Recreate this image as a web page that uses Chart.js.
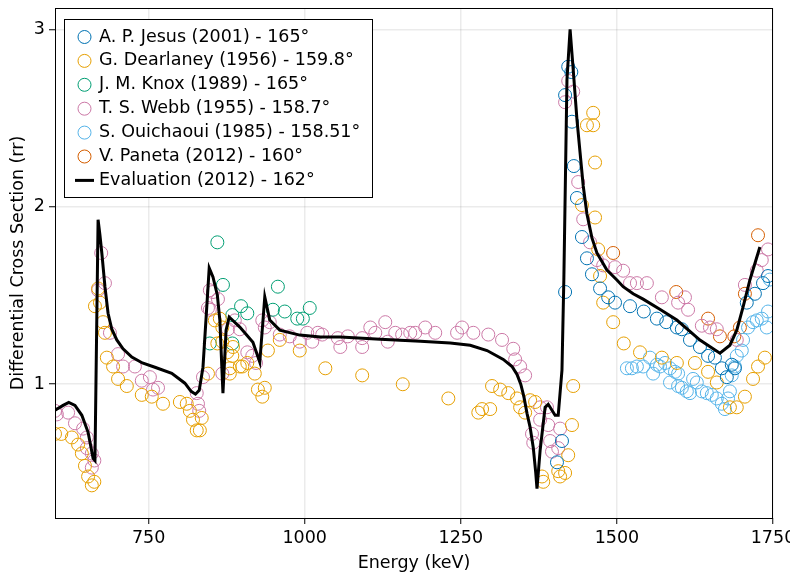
<!DOCTYPE html>
<html>
<head>
<meta charset="utf-8">
<script src="https://cdn.jsdelivr.net/npm/chart.js@4.4.1/dist/chart.umd.min.js"></script>
<style>
  html, body { margin: 0; padding: 0; background: #fff; overflow: hidden; }
  canvas { display: block; }
</style>
</head>
<body>
<canvas id="chart" width="790" height="574"></canvas>
<script>
// axis ticks
const xTicks = [750, 1000, 1250, 1500, 1750];
const yTicks = [1, 2, 3];

// A. P. Jesus (2001)
const jesusE = [1404,1412,1417,1417,1422,1427,1428,1431,1436,1444,1452,1460,1473,1486,1497,1521,1543,1564,1579,1596,1604,1617,1633,1646,1657,1668,1676,1684,1689,1708,1721,1734,1742];
const jesusY = [0.56,0.68,1.52,2.63,2.79,2.76,2.48,2.23,2.05,1.83,1.71,1.62,1.54,1.49,1.46,1.44,1.41,1.37,1.35,1.32,1.31,1.25,1.21,1.16,1.15,1.09,1.04,1.11,1.09,1.46,1.51,1.57,1.61];

// G. Dearlaney (1956)
const dearE = [600,610,627,637,643,648,653,659,663,664,669,672,677,680,683,693,701,715,739,755,773,800,811,816,821,827,832,835,845,856,864,860,868,868,876,880,880,884,885,896,900,908,920,925,932,936,941,960,992,1033,1092,1157,1230,1278,1284,1297,1300,1313,1326,1340,1345,1353,1361,1369,1380,1382,1406,1409,1417,1422,1428,1430,1452,1462,1462,1465,1444,1465,1470,1473,1478,1494,1511,1537,1572,1596,1625,1646,1660,1681,1692,1705,1718,1726,1737];
const dearY = [0.72,0.72,0.70,0.66,0.61,0.54,0.48,0.43,0.45,1.44,1.54,1.46,1.35,1.29,1.15,1.10,1.03,0.99,0.94,0.93,0.89,0.90,0.89,0.85,0.80,0.74,0.74,0.81,1.06,1.36,1.37,1.23,1.32,1.24,1.18,1.09,1.06,1.16,1.21,1.10,1.10,1.12,1.06,0.97,0.93,0.98,1.19,1.25,1.19,1.09,1.05,1.00,0.92,0.84,0.86,0.86,0.99,0.97,0.95,0.92,0.87,0.84,0.91,0.90,0.48,0.45,0.51,0.48,0.50,0.60,0.77,0.99,2.46,2.53,2.46,2.25,2.01,1.94,1.76,1.61,1.46,1.35,1.23,1.18,1.15,1.12,1.12,1.07,1.01,0.87,0.87,0.93,1.03,1.10,1.15];

// J. M. Knox (1989)
const knoxE = [848,860,869,884,884,898,908,949,957,968,988,997,1008];
const knoxY = [1.23,1.80,1.56,1.39,1.23,1.44,1.40,1.42,1.55,1.41,1.37,1.37,1.43];

// T. S. Webb (1955)
const webbE = [600,603,621,632,645,651,651,659,663,659,669,674,680,688,701,709,728,739,752,757,765,827,829,831,837,845,848,853,861,848,868,877,888,896,908,916,922,932,936,944,960,976,992,1004,1012,1021,1028,1053,1057,1069,1092,1092,1105,1113,1129,1133,1145,1156,1169,1177,1193,1209,1244,1252,1270,1294,1316,1334,1337,1345,1353,1364,1366,1377,1377,1388,1390,1393,1396,1406,1409,1417,1422,1430,1438,1446,1457,1468,1478,1497,1510,1521,1532,1548,1572,1598,1609,1614,1636,1649,1660,1692,1705,1724,1732,1742];
const webbY = [0.85,0.83,0.84,0.78,0.75,0.70,0.64,0.61,0.57,0.53,1.53,1.74,1.57,1.29,1.17,1.10,1.10,1.02,1.04,0.97,0.98,0.95,0.89,0.85,1.04,1.43,1.53,1.52,1.48,1.42,1.06,1.31,1.36,1.31,1.18,1.16,1.12,1.36,1.32,1.35,1.28,1.27,1.24,1.29,1.24,1.29,1.28,1.26,1.21,1.27,1.21,1.26,1.32,1.29,1.35,1.24,1.29,1.28,1.29,1.29,1.32,1.29,1.29,1.32,1.29,1.28,1.25,1.20,1.14,1.10,1.05,0.72,0.67,0.87,0.80,0.87,0.77,0.68,0.62,0.64,0.75,2.59,2.71,2.65,2.14,1.93,1.80,1.70,1.67,1.66,1.64,1.57,1.57,1.57,1.49,1.46,1.49,1.42,1.33,1.32,1.31,1.25,1.56,1.64,1.70,1.76];

// S. Ouichaoui (1985)
const ouiE = [1516,1524,1532,1542,1553,1558,1564,1569,1577,1585,1593,1598,1585,1598,1604,1612,1617,1622,1628,1636,1644,1652,1660,1668,1673,1678,1681,1684,1689,1692,1700,1702,1710,1718,1724,1732,1740,1742,1745];
const ouiY = [1.09,1.09,1.10,1.10,1.15,1.06,1.11,1.10,1.12,1.09,1.07,1.06,1.01,0.99,0.98,0.96,0.95,1.03,1.01,0.96,0.95,0.94,0.92,0.89,0.86,0.92,0.96,1.05,1.10,1.16,1.19,1.25,1.32,1.35,1.36,1.37,1.32,1.41,1.59];

// V. Paneta (2012)
const panetaE = [1494,1595,1646,1665,1688,1697,1705,1726];
const panetaY = [1.74,1.52,1.37,1.27,1.27,1.32,1.51,1.84];

// Evaluation (2012)
const evalE = [600,613,622,632,643,653,661,664,669,672,675,680,685,691,699,709,723,740,760,787,808,818,825,831,837,847,853,860,864,869,874,879,896,917,928,936,944,960,992,1025,1057,1121,1185,1233,1265,1292,1318,1332,1340,1346,1351,1356,1361,1366,1370,1372,1377,1385,1390,1396,1401,1406,1412,1415,1420,1425,1430,1433,1436,1441,1446,1452,1460,1468,1484,1500,1510,1526,1542,1570,1596,1633,1665,1681,1692,1702,1713,1729];
const evalY = [0.853,0.881,0.898,0.881,0.825,0.729,0.582,0.57,1.927,1.84,1.74,1.55,1.40,1.31,1.25,1.20,1.153,1.12,1.096,1.062,1.006,0.96,0.944,0.966,1.096,1.655,1.605,1.503,1.362,0.949,1.305,1.379,1.322,1.237,1.124,1.492,1.362,1.305,1.277,1.266,1.266,1.254,1.243,1.232,1.22,1.19,1.14,1.10,1.055,1.0,0.93,0.836,0.757,0.644,0.50,0.412,0.627,0.87,0.887,0.853,0.825,0.825,1.08,1.59,2.718,3.0,2.774,2.633,2.492,2.305,2.119,1.96,1.825,1.74,1.644,1.588,1.55,1.51,1.48,1.42,1.362,1.249,1.175,1.22,1.305,1.435,1.588,1.774];

function pts(xs, ys) {
    return xs.map((x, i) => ({ x: x, y: ys[i] }));
}

function markers(label, color, xs, ys) {
    return {
        label: label,
        data: pts(xs, ys),
        borderColor: color,
        backgroundColor: "rgba(0,0,0,0)",
        pointRadius: 6.5,
        pointBorderWidth: 1,
        showLine: false,
        clip: 0,
    };
}

// frame round the plot + boxed legend in the top-left corner
const frameLegend = {
    id: "frameLegend",
    afterDatasetsDraw(chart) {
        const ctx = chart.ctx;
        const a = chart.chartArea;
        ctx.save();
        ctx.strokeStyle = "#000";
        ctx.lineWidth = 1;
        ctx.strokeRect(a.left + 0.5, a.top + 0.5, a.right - a.left - 1, a.bottom - a.top);

        const bx = a.left + 9, by = a.top + 11, bw = 308, bh = 178;
        ctx.fillStyle = "#fff";
        ctx.fillRect(bx, by, bw, bh);
        ctx.strokeRect(bx + 0.5, by + 0.5, bw, bh);
        ctx.font = "17.5px 'DejaVu Sans'";
        ctx.textBaseline = "middle";
        chart.data.datasets.forEach((ds, i) => {
            const y = by + 18 + i * 23.9;
            ctx.strokeStyle = ds.borderColor;
            ctx.beginPath();
            if (ds.showLine) {
                ctx.lineWidth = 3;
                ctx.moveTo(bx + 11, y);
                ctx.lineTo(bx + 30, y);
            } else {
                ctx.lineWidth = 1;
                ctx.arc(bx + 20.5, y, 6.5, 0, Math.PI * 2);
            }
            ctx.stroke();
            ctx.fillStyle = "#000";
            ctx.fillText(ds.label, bx + 35, y);
        });
        ctx.restore();
    },
};

Chart.defaults.font.family = "'DejaVu Sans'";
Chart.defaults.font.size = 17.5;
Chart.defaults.color = "#000";

const gridOpt = { color: "rgba(0,0,0,0.08)", lineWidth: 1.5, tickLength: 6, tickColor: "#000", tickWidth: 1 };

new Chart(document.getElementById("chart"), {
    type: "scatter",
    data: {
        datasets: [
            markers("A. P. Jesus (2001) - 165°", "#0072B2", jesusE, jesusY),
            markers("G. Dearlaney (1956) - 159.8°", "#E69F00", dearE, dearY),
            markers("J. M. Knox (1989) - 165°", "#009E73", knoxE, knoxY),
            markers("T. S. Webb (1955) - 158.7°", "#CC79A7", webbE, webbY),
            markers("S. Ouichaoui (1985) - 158.51°", "#56B4E9", ouiE, ouiY),
            markers("V. Paneta (2012) - 160°", "#D55E00", panetaE, panetaY),
            {
                label: "Evaluation (2012) - 162°",
                data: pts(evalE, evalY),
                showLine: true,
                borderColor: "#000",
                backgroundColor: "#000",
                borderWidth: 3,
                pointRadius: 0,
                tension: 0,
                clip: 0,
                order: -1,
            },
        ],
    },
    options: {
        responsive: false,
        animation: false,
        events: [],
        layout: { padding: { top: 8, right: 17, bottom: 0, left: 0 } },
        plugins: { legend: { display: false }, tooltip: { enabled: false } },
        scales: {
            x: {
                type: "linear",
                min: 600,
                max: 1750,
                afterBuildTicks: (s) => { s.ticks = xTicks.map((v) => ({ value: v })); },
                afterFit: (s) => { s.height = 56; s.paddingLeft = 0; s.paddingRight = 0; },
                grid: gridOpt,
                border: { display: false },
                ticks: { padding: 4, maxRotation: 0, autoSkip: false, callback: (v) => String(v) },
                title: { display: true, text: "Energy (keV)", padding: { top: 0, bottom: 0 } },
            },
            y: {
                type: "linear",
                min: 0.246,
                max: 3.121,
                afterBuildTicks: (s) => { s.ticks = yTicks.map((v) => ({ value: v })); },
                afterFit: (s) => { s.width = 55; s.paddingTop = 0; s.paddingBottom = 0; },
                grid: gridOpt,
                border: { display: false },
                ticks: { padding: 4, callback: (v) => String(v) },
                title: { display: true, text: "Differential Cross Section (rr)", padding: { top: 8, bottom: 0 } },
            },
        },
    },
    plugins: [frameLegend],
});
</script>
</body>
</html>
